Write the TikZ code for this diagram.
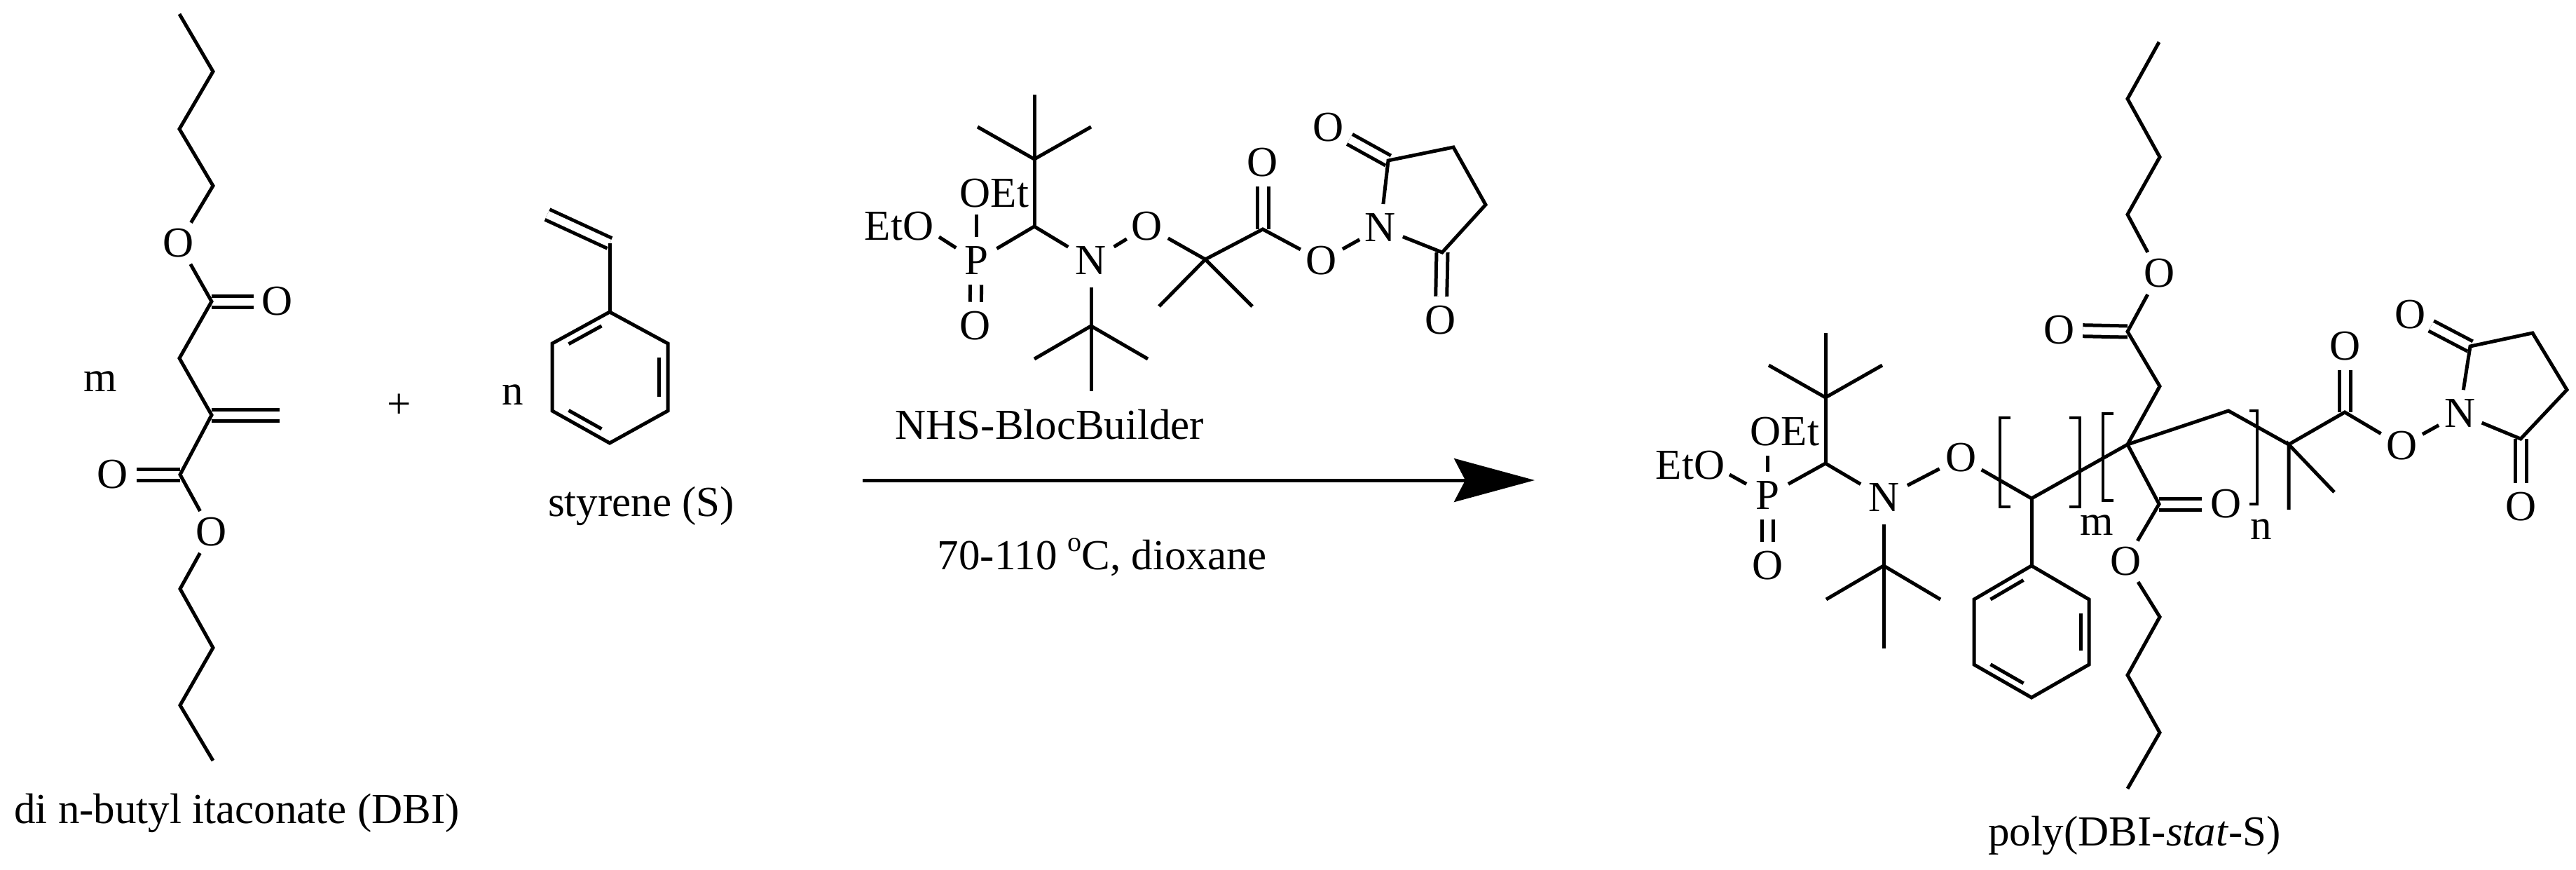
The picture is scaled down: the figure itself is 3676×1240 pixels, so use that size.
\documentclass[tikz,border=0pt]{standalone}
\usepackage{fontspec}
\setmainfont{Liberation Serif}
\usetikzlibrary{arrows.meta,calc}
\tikzset{
  atom/.style={circle,inner sep=0pt,minimum size=68pt,font=\chemfont},
  atomN/.style={atom,minimum size=76pt},
  lab/.style={inner sep=0pt,font=\chemfont},
  bond/.style={draw=black,line width=5pt,line join=miter},
  dbl/.style={bond,double=white,double distance=11pt},
  rxn/.style={draw=black,line width=5pt,-{Stealth[length=115pt,width=62pt,inset=16pt]}}
}
\newcommand{\chemfont}{\fontsize{61}{66}\selectfont}
\begin{document}
\begin{tikzpicture}[x=1pt,y=-1pt]
\useasboundingbox (0,0) rectangle (3676,1240);
% ---------- DBI
\foreach \n/\x/\y in {a1/256/20,a2/304/102,a3/256/184,a4/304/265,a5/302/430,a6/256/511,a7/302/592,aV/399/592,a8/257/677,a9/257/840,a10/304/924,a11/257/1006,a12/304/1085}
  \coordinate (\n) at (\x,\y);
\node[atom] (aO1) at (255,347) {O};
\node[atom] (aO2) at (396,430) {O};
\node[atom] (aO3) at (161,677) {O};
\node[atom] (aO4) at (302,759) {O};
\node[lab] (am) at (143,544) {m};
\node[lab] (plus) at (570,579) {+};
\node[lab] (an) at (732,563) {n};
\node[lab] (sname) at (915,722) {styrene (S)};
\node[lab] (aname) at (338,1160) {di n-butyl itaconate (DBI)};
\draw[dbl] (a5) -- (aO2);
\draw[dbl] (a7) -- (aV);
\draw[dbl] (a8) -- (aO3);
\draw[bond] (a1) -- (a2) -- (a3) -- (a4) -- (aO1) -- (a5) -- (a6) -- (a7) -- (a8) -- (aO4) -- (a9) -- (a10) -- (a11) -- (a12);
% ---------- styrene
\foreach \n/\x/\y in {sV/781/306,sA/870/347,s1/870/445,s2/953/490,s3/953/586,s4/870/632,s5/788/586,s6/788/490,sc/870/538}
  \coordinate (\n) at (\x,\y);
\draw[dbl] (sV) -- (sA);
\draw[bond] (sA) -- (s1);
\draw[bond] (s1) -- (s2) -- (s3) -- (s4) -- (s5) -- (s6) -- cycle;
\draw[bond] ($(s1)!.17!(sc)!.14!(s6)$) -- ($(s6)!.17!(sc)!.14!(s1)$);
\draw[bond] ($(s2)!.17!(sc)!.14!(s3)$) -- ($(s3)!.17!(sc)!.14!(s2)$);
\draw[bond] ($(s4)!.17!(sc)!.14!(s5)$) -- ($(s5)!.17!(sc)!.14!(s4)$);
% ---------- NHS-BlocBuilder
\foreach \n/\x/\y in {bT/1476/135,bC/1476/227,bL/1395/181,bR/1557/181,bH/1476/323,bQ/1720/370,bM1/1654/437,bM2/1787/437,bK/1802/327,bI1/1981/229,bI2/2074/210,bI3/2120/292,bI4/2058/360,bU/1557/465,bUL/1476/512,bUR/1638/512,bUB/1557/558,bOx/1393/306,bEx/1340/338}
  \coordinate (\n) at (\x,\y);
\node[lab] (bOEt) at (1419,276) {OEt};
\node[lab] (bEtO) at (1283,323) {EtO};
\node[atom] (bP) at (1393,372) {P};
\node[atom] (bOd) at (1392,465) {O};
\node[atomN] (bN) at (1557,372) {N};
\node[atom] (bO) at (1637,323) {O};
\node[atom] (bOk) at (1802,232) {O};
\node[atom] (bOe) at (1886,372) {O};
\node[atom] (bNi) at (1970,325) {N};
\node[atom] (bO1) at (1896,182) {O};
\node[atom] (bO2) at (2056,457) {O};
\node[lab] (bname) at (1498,606) {NHS-BlocBuilder};
\draw[dbl] (bP) -- (bOd);
\draw[dbl] (bK) -- (bOk);
\draw[dbl] (bI1) -- (bO1);
\draw[dbl] (bI4) -- (bO2);
\draw[bond] (bT) -- (bC) -- (bH);
\draw[bond] (bL) -- (bC) -- (bR);
\draw[bond] (bP) -- (bOx);
\draw[bond] (bP) -- (bEx);
\draw[bond] (bP) -- (bH) -- (bN) -- (bO) -- (bQ) -- (bK) -- (bOe) -- (bNi) -- (bI1) -- (bI2) -- (bI3) -- (bI4) -- (bNi);
\draw[bond] (bM1) -- (bQ) -- (bM2);
\draw[bond] (bN) -- (bU) -- (bUB);
\draw[bond] (bUL) -- (bU) -- (bUR);
% ---------- arrow
\coordinate (arS) at (1231,685);
\coordinate (arE) at (2190,685);
\draw[rxn] (arS) -- (arE);
\node[lab] (cond) at (1573,795) {70-110 \raisebox{.42em}{\fontsize{40}{40}\selectfont o}C, dioxane};
% ---------- product
\foreach \n/\x/\y in {pT/2605/475,pC/2605/567,pL/2524/521,pR/2686/521,pH/2605/661,pOx/2522/650,pEx/2468/677,
  pU/2688/807,pUL/2606/855,pUR/2769/855,pUB/2688/925,
  pS/2899/711,r1/2899/807,r2/2981/855,r3/2981/948,r4/2899/995,r5/2817/948,r6/2817/855,rc/2899/901,
  pQ/3036/634,u1/3082/551,uK/3036/473,u3/3036/306,u4/3082/224,u5/3036/141,u6/3081/60,
  dK/3081/719,d1/3082/880,d2/3036/963,d3/3082/1045,d4/3036/1125,
  pW/3180/586,pZ/3266/634,pM1/3266/727,pM2/3331/702,pK/3346/588,pI1/3525/494,pI2/3614/475,pI3/3663/556,pI4/3597/626}
  \coordinate (\n) at (\x,\y);
\node[lab] (pOEt) at (2547,616) {OEt};
\node[lab] (pEtO) at (2412,664) {EtO};
\node[atom] (pP) at (2522,707) {P};
\node[atom] (pOd) at (2522,807) {O};
\node[atomN] (pN) at (2688,710) {N};
\node[atom] (pO) at (2798,653) {O};
\node[atom] (uOd) at (2938,471) {O};
\node[atom] (uO) at (3081,390) {O};
\node[atom] (dOd) at (3176,719) {O};
\node[atom] (dO) at (3033,801) {O};
\node[atom] (pOk) at (3346,494) {O};
\node[atom] (pOe) at (3427,636) {O};
\node[atom] (pNi) at (3510,590) {N};
\node[atom] (pO1) at (3439,449) {O};
\node[atom] (pO2) at (3597,723) {O};
\node[lab] (mm) at (2992,749) {m};
\node[lab] (nn) at (3227,755) {n};
\node[lab] (pname) at (3046,1192) {poly(DBI-\textit{stat}-S)};
\draw[dbl] (pP) -- (pOd);
\draw[dbl] (uK) -- (uOd);
\draw[dbl] (dK) -- (dOd);
\draw[dbl] (pK) -- (pOk);
\draw[dbl] (pI1) -- (pO1);
\draw[dbl] (pI4) -- (pO2);
\draw[bond] (pT) -- (pC) -- (pH);
\draw[bond] (pL) -- (pC) -- (pR);
\draw[bond] (pP) -- (pOx);
\draw[bond] (pP) -- (pEx);
\draw[bond] (pP) -- (pH) -- (pN) -- (pO) -- (pS) -- (pQ) -- (pW) -- (pZ) -- (pK) -- (pOe) -- (pNi) -- (pI1) -- (pI2) -- (pI3) -- (pI4) -- (pNi);
\draw[bond] (pM1) -- (pZ) -- (pM2);
\draw[bond] (pN) -- (pU) -- (pUB);
\draw[bond] (pUL) -- (pU) -- (pUR);
\draw[bond] (pS) -- (r1);
\draw[bond] (r1) -- (r2) -- (r3) -- (r4) -- (r5) -- (r6) -- cycle;
\draw[bond] ($(r1)!.17!(rc)!.14!(r6)$) -- ($(r6)!.17!(rc)!.14!(r1)$);
\draw[bond] ($(r2)!.17!(rc)!.14!(r3)$) -- ($(r3)!.17!(rc)!.14!(r2)$);
\draw[bond] ($(r4)!.17!(rc)!.14!(r5)$) -- ($(r5)!.17!(rc)!.14!(r4)$);
\draw[bond] (pQ) -- (u1) -- (uK) -- (uO) -- (u3) -- (u4) -- (u5) -- (u6);
\draw[bond] (pQ) -- (dK) -- (dO) -- (d1) -- (d2) -- (d3) -- (d4);
% brackets
\foreach \n/\x/\y in {k1a/2869/596,k1b/2854/596,k1c/2854/723,k1d/2869/723,
  k2a/2953/596,k2b/2968/596,k2c/2968/723,k2d/2953/723,
  k3a/3016/590,k3b/3001/590,k3c/3001/714,k3d/3016/714,
  k4a/3210/586,k4b/3221/586,k4c/3221/719,k4d/3210/719}
  \coordinate (\n) at (\x,\y);
\draw[bond,line width=4pt] (k1a) -- (k1b) -- (k1c) -- (k1d);
\draw[bond,line width=4pt] (k2a) -- (k2b) -- (k2c) -- (k2d);
\draw[bond,line width=4pt] (k3a) -- (k3b) -- (k3c) -- (k3d);
\draw[bond,line width=4pt] (k4a) -- (k4b) -- (k4c) -- (k4d);
\end{tikzpicture}
\end{document}
